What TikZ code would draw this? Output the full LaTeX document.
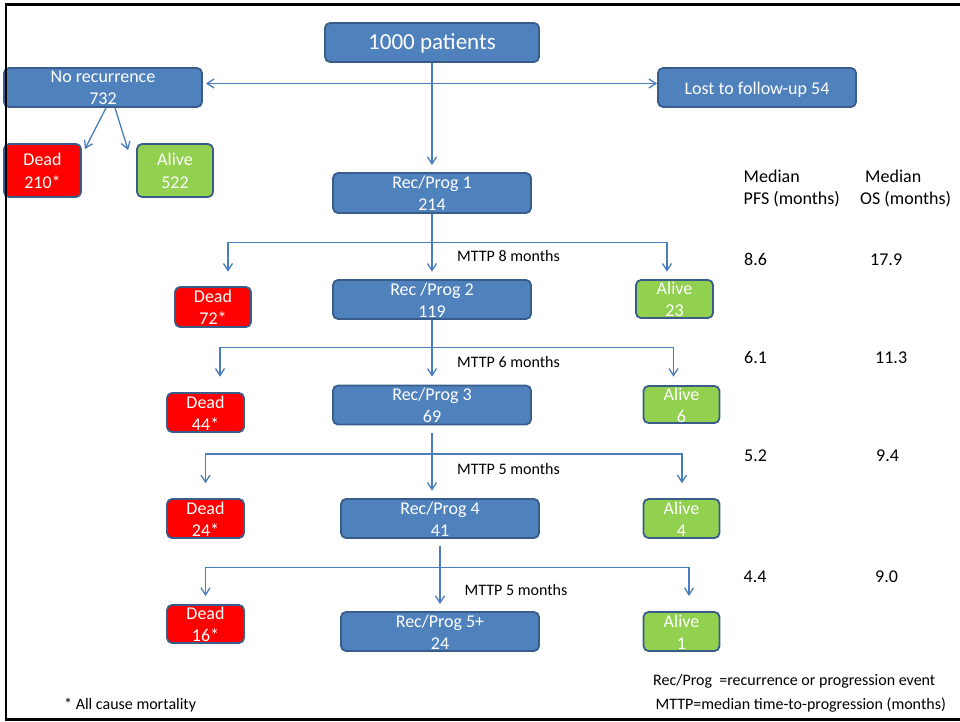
\documentclass[tikz,border=0pt]{standalone}
\usepackage{fontspec}
\setmainfont{Carlito}
\usetikzlibrary{arrows.meta,calc}
\definecolor{boxblue}{HTML}{4F81BD}
\definecolor{boxline}{HTML}{385D8A}
\definecolor{deadred}{HTML}{FF0000}
\definecolor{alivegreen}{HTML}{92D050}
\definecolor{conn}{HTML}{4A7EBB}
\tikzset{
  box/.style={draw=boxline, line width=1.8pt, rounded corners=5pt, inner sep=0pt},
  bluebox/.style={box, fill=boxblue},
  redbox/.style={box, fill=deadred},
  greenbox/.style={box, fill=alivegreen},
  bt/.style={text=white, font=\fontsize{18}{22}\selectfont, inner sep=0pt, anchor=base},
  bigt/.style={text=white, font=\fontsize{23}{27}\selectfont, inner sep=0pt, anchor=base},
  lbl/.style={font=\fontsize{16}{19}\selectfont, inner sep=0pt, anchor=base west},
  col/.style={font=\fontsize{18}{22}\selectfont, inner sep=0pt, anchor=base west},
  ln/.style={draw=conn, line width=1.3pt},
  arr/.style={ln, -{Straight Barb[length=7pt,width=9pt]}},
  arrboth/.style={ln, {Straight Barb[length=7pt,width=9pt]}-{Straight Barb[length=7pt,width=9pt]}},
}
\newcommand{\twolines}[2]{\begin{tabular}[t]{@{}c@{}}#1\\#2\end{tabular}}
\begin{document}
\begin{tikzpicture}[x=1pt,y=-1pt]
\useasboundingbox (0,0) rectangle (960,722);

% boxes
\node[bluebox, minimum width=214pt, minimum height=39pt] (np) at (432,42.5) {};
\node[bluebox, minimum width=198pt, minimum height=39pt] (nr) at (103,87.5) {};
\node[bluebox, minimum width=198pt, minimum height=39pt] (lost) at (757,87.5) {};
\node[redbox, minimum width=77pt, minimum height=53pt] (d0) at (42.5,170.5) {};
\node[greenbox, minimum width=76pt, minimum height=53pt] (a0) at (175,170.5) {};
\node[bluebox, minimum width=198pt, minimum height=40pt] (r1) at (432,193) {};

\node[redbox, minimum width=76pt, minimum height=40pt] (d1) at (213,307) {};
\node[bluebox, minimum width=198pt, minimum height=39pt] (r2) at (432,299.5) {};
\node[greenbox, minimum width=77pt, minimum height=38pt] (a1) at (674.5,299) {};

\node[redbox, minimum width=77pt, minimum height=39pt] (d2) at (205.5,412.5) {};
\node[bluebox, minimum width=198pt, minimum height=39pt] (r3) at (432,405) {};
\node[greenbox, minimum width=76pt, minimum height=37pt] (a2) at (681.5,404.5) {};

\node[redbox, minimum width=77pt, minimum height=39pt] (d3) at (205.5,518.5) {};
\node[bluebox, minimum width=198pt, minimum height=39pt] (r4) at (440,518.5) {};
\node[greenbox, minimum width=76pt, minimum height=39pt] (a3) at (681.5,518.5) {};

\node[redbox, minimum width=77pt, minimum height=38pt] (d4) at (205.5,624) {};
\node[bluebox, minimum width=198pt, minimum height=39pt] (r5) at (440,631.5) {};
\node[greenbox, minimum width=76pt, minimum height=39pt] (a4) at (681.5,631.5) {};

% box texts
\node[bigt] (npt) at ($(np.center)+(0,7.5)$) {1000 patients};
\node[bt] (nrt) at ($(nr.center)+(0,-4.5)$) {\twolines{No recurrence}{732}};
\node[bt] (lostt) at ($(lost.center)+(0,6.8)$) {Lost to follow-up 54};
\node[bt] (d0t) at ($(d0.center)+(0,-4.5)$) {\twolines{Dead}{210*}};
\node[bt] (a0t) at ($(a0.center)+(0,-4.5)$) {\twolines{Alive}{522}};
\node[bt] (r1t) at ($(r1.center)+(0,-4.5)$) {\twolines{Rec/Prog 1}{214}};
\node[bt] (d1t) at ($(d1.center)+(0,-4.5)$) {\twolines{Dead}{72*}};
\node[bt] (r2t) at ($(r2.center)+(0,-4.5)$) {\twolines{Rec /Prog 2}{119}};
\node[bt] (a1t) at ($(a1.center)+(0,-4.5)$) {\twolines{Alive}{23}};
\node[bt] (d2t) at ($(d2.center)+(0,-4.5)$) {\twolines{Dead}{44*}};
\node[bt] (r3t) at ($(r3.center)+(0,-4.5)$) {\twolines{Rec/Prog 3}{69}};
\node[bt] (a2t) at ($(a2.center)+(0,-4.5)$) {\twolines{Alive}{6}};
\node[bt] (d3t) at ($(d3.center)+(0,-4.5)$) {\twolines{Dead}{24*}};
\node[bt] (r4t) at ($(r4.center)+(0,-4.5)$) {\twolines{Rec/Prog 4}{41}};
\node[bt] (a3t) at ($(a3.center)+(0,-4.5)$) {\twolines{Alive}{4}};
\node[bt] (d4t) at ($(d4.center)+(0,-4.5)$) {\twolines{Dead}{16*}};
\node[bt] (r5t) at ($(r5.center)+(0,-4.5)$) {\twolines{Rec/Prog 5+}{24}};
\node[bt] (a4t) at ($(a4.center)+(0,-4.5)$) {\twolines{Alive}{1}};

% top connectors
\draw[arr, shorten >=7pt] (np.south) -- (np.south |- r1.north);
\draw[arrboth, shorten <=3pt, shorten >=0pt] ([yshift=4pt]nr.east) -- ([yshift=4pt]lost.west);
\draw[arr] ([xshift=3pt]nr.south) -- ([shift={(3pt,-6pt)}]d0.north east);
\draw[arr] ([xshift=12pt]nr.south) -- ([shift={(-8pt,-7pt)}]a0.north west);

% branch 1
\coordinate (j1) at (432,242.7);
\coordinate (t1l) at (228,271.7);
\coordinate (t1c) at (432,271.7);
\coordinate (t1r) at (667,271.7);
\draw[arr] (r1.south) -- (t1c);
\draw[arr] (j1) -| (t1l);
\draw[arr] (j1) -| (t1r);

% branch 2
\coordinate (j2) at (432,347.3);
\coordinate (t2l) at (220,376.7);
\coordinate (t2c) at (432,376.7);
\coordinate (t2r) at (673.5,376.7);
\draw[arr] (r2.south) -- (t2c);
\draw[arr] (j2) -| (t2l);
\draw[arr] (j2) -| (t2r);

% branch 3
\coordinate (j3) at (432,454);
\coordinate (t3l) at (205.5,483.3);
\coordinate (t3c) at (432,490.7);
\coordinate (t3r) at (682,483.3);
\draw[arr] ([yshift=-8pt]r3.south) -- (t3c);
\draw[arr] (j3) -| (t3l);
\draw[arr] (j3) -| (t3r);

% branch 4
\coordinate (j4) at (440,567.3);
\coordinate (t4l) at (205.5,596);
\coordinate (t4c) at (440,604);
\coordinate (t4r) at (689,596);
\draw[arr] ([yshift=-7pt]r4.south) -- (t4c);
\draw[arr] (j4) -| (t4l);
\draw[arr] (j4) -| (t4r);

% MTTP labels
\node[lbl] (m1) at (457,261.5) {MTTP 8 months};
\node[lbl] (m2) at (457,367.3) {MTTP 6 months};
\node[lbl] (m3) at (457,474) {MTTP 5 months};
\node[lbl] (m4) at (464.5,595.3) {MTTP 5 months};

% right columns
\node[col] (h1a) at (743.5,182.7) {Median};
\node[col] (h1b) at (743.5,204.3) {PFS (months)};
\node[col] (h2a) at (865,182.7) {Median};
\node[col] (h2b) at (860,204.3) {OS (months)};
\node[col] (p1) at (744,265.7) {8.6};
\node[col] (o1) at (870,265.7) {17.9};
\node[col] (p2) at (744,363.3) {6.1};
\node[col] (o2) at (875,363.3) {11.3};
\node[col] (p3) at (744,461) {5.2};
\node[col] (o3) at (876,461) {9.4};
\node[col] (p4) at (743.5,582) {4.4};
\node[col] (o4) at (875,582) {9.0};

% footnotes
\node[lbl] (f1) at (653,685.7) {Rec/Prog~~=recurrence or progression event};
\node[lbl] (f2) at (655.5,709) {MTTP=median time-to-progression (months)};
\node[lbl] (f3) at (64,709) {* All cause mortality};

% frame
\draw[line width=3pt] (5,4.5) -- (960,4.5);
\draw[line width=2.2pt] (6.2,3) -- (6.2,720.6);
\draw[line width=2.2pt] (5,719.5) -- (960,719.5);
\end{tikzpicture}
\end{document}
